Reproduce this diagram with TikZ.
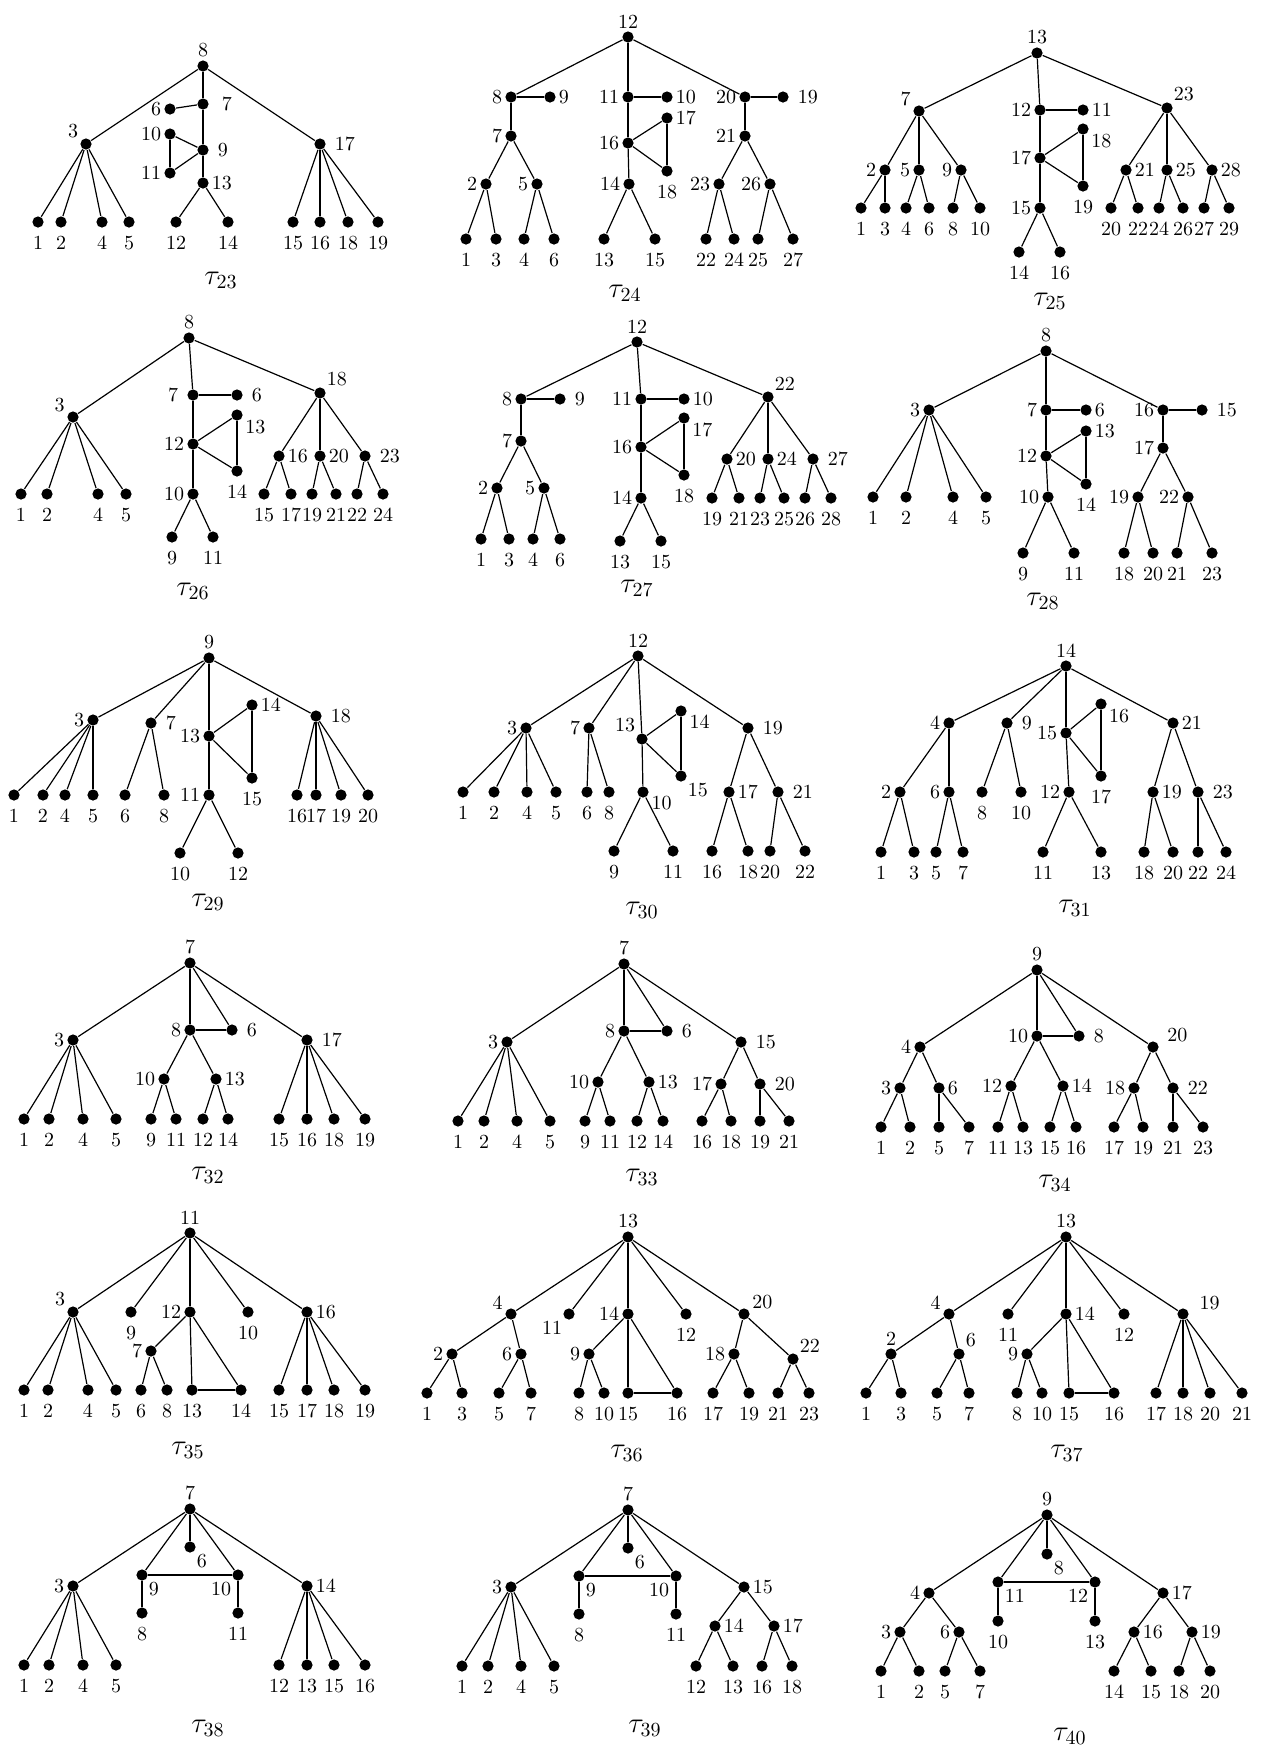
\documentclass[tikz,border=0pt]{standalone}
\usepackage{amsmath}
\usepackage{tikz}
\newcommand{\lbfont}{\fontsize{10}{12}\selectfont}
\tikzset{
 vtx/.style={circle,fill=black,inner sep=0pt,minimum size=5.6pt},
 leaf/.style={vtx,label={[yshift=-2.5pt]below:#1}},
 rlab/.style={label={[xshift=3pt]right:#1}},
 every label/.style={inner sep=1pt,font=\lbfont},
 tname/.style={font=\Large}
}

\begin{document}
\begin{tikzpicture}[x=0.5pt,y=-0.5pt,line width=0.6pt]
\useasboundingbox (0,0) rectangle (1261,1747);

% tau_23
\begin{scope}[name prefix=t23-]
\node[vtx,label=above:8] (n8) at (203,66) {};
\node[vtx,label={[xshift=5pt]right:7}] (n7) at (203,104) {};
\node[vtx,label=left:6] (n6) at (170,109) {};
\node[vtx,label=left:10] (n10) at (170,134) {};
\node[vtx,rlab=9] (n9) at (203,150) {};
\node[vtx,label=left:11] (n11) at (170,173) {};
\node[vtx,label=right:13] (n13) at (203,183) {};
\node[vtx,label=150:3] (n3) at (86,144) {};
\node[vtx,rlab=17] (n17) at (320,144) {};
\foreach \k/\x in {1/38,2/61,4/102,5/129,12/176,14/228,15/293,16/320,18/348,19/378}
  \node[leaf=\k] (n\k) at (\x,222) {};
\foreach \u/\w in {8/3,8/7,8/17,7/6,7/9,9/10,9/11,10/11,9/13,13/12,13/14,3/1,3/2,3/4,3/5,17/15,17/16,17/18,17/19}
  \draw (n\u) -- (n\w);
\node[tname] (lab) at (221,280) {$\tau_{23}$};
\end{scope}

% tau_24
\begin{scope}[name prefix=t24-]
\node[vtx,label=above:12] (n12) at (628,37) {};
\node[vtx,label=left:8] (n8) at (511,97) {};
\node[vtx,label=right:9] (n9) at (550,97) {};
\node[vtx,label=left:7] (n7) at (511,136) {};
\node[vtx,label=left:2] (n2) at (486,184) {};
\node[vtx,label=left:5] (n5) at (537,184) {};
\node[vtx,label=left:11] (n11) at (628,97) {};
\node[vtx,label=right:10] (n10) at (667,97) {};
\node[vtx,label=right:17] (n17) at (667,118) {};
\node[vtx,label=left:16] (n16) at (628,143) {};
\node[leaf=18] (n18) at (667,171) {};
\node[vtx,label=left:14] (n14) at (629,184) {};
\node[vtx,label=left:20] (n20) at (745,97) {};
\node[vtx,rlab=19] (n19) at (783,97) {};
\node[vtx,label=left:21] (n21) at (745,136) {};
\node[vtx,label=left:23] (n23) at (719,184) {};
\node[vtx,label=left:26] (n26) at (770,184) {};
\foreach \k/\x in {1/466,3/496,4/524,6/554,13/604,15/655,22/706,24/734,25/758,27/793}
  \node[leaf=\k] (n\k) at (\x,239) {};
\foreach \u/\w in {12/8,12/11,12/20,8/9,8/7,7/2,7/5,2/1,2/3,5/4,5/6,11/10,11/16,16/17,16/18,17/18,16/14,14/13,14/15,20/19,20/21,21/23,21/26,23/22,23/24,26/25,26/27}
  \draw (n\u) -- (n\w);
\node[tname] (lab) at (625,293) {$\tau_{24}$};
\end{scope}

% tau_25
\begin{scope}[name prefix=t25-]
\node[vtx,label=above:13] (n13) at (1037,53) {};
\node[vtx,label=160:7] (n7) at (919,111) {};
\node[vtx,label=left:2] (n2) at (885,170) {};
\node[vtx,label=left:5] (n5) at (919,170) {};
\node[vtx,label=left:9] (n9) at (961,170) {};
\node[vtx,label=left:12] (n12) at (1040,110) {};
\node[vtx,label=right:11] (n11) at (1083,110) {};
\node[vtx,label=-20:18] (n18) at (1083,129) {};
\node[vtx,label=left:17] (n17) at (1040,158) {};
\node[leaf=19] (n19) at (1083,186) {};
\node[vtx,label=left:15] (n15) at (1040,208) {};
\node[vtx,label=above right:23] (n23) at (1167,108) {};
\node[vtx,label=right:21] (n21) at (1126,170) {};
\node[vtx,label=right:25] (n25) at (1167,170) {};
\node[vtx,label=right:28] (n28) at (1212,170) {};
\foreach \k/\x in {1/861,3/885,4/906,6/929,8/953,10/980,20/1111,22/1138,24/1159,26/1183,27/1204,29/1229}
  \node[leaf=\k] (n\k) at (\x,208) {};
\foreach \k/\x in {14/1019,16/1060}
  \node[leaf=\k] (n\k) at (\x,252) {};
\foreach \u/\w in {13/7,13/12,13/23,7/2,7/5,7/9,2/1,2/3,5/4,5/6,9/8,9/10,12/11,12/17,17/18,17/19,18/19,17/15,15/14,15/16,23/21,23/25,23/28,21/20,21/22,25/24,25/26,28/27,28/29}
  \draw (n\u) -- (n\w);
\node[tname] (lab) at (1050,301) {$\tau_{25}$};
\end{scope}

% tau_26
\begin{scope}[name prefix=t26-]
\node[vtx,label=above:8] (n8) at (189,338) {};
\node[vtx,label=160:3] (n3) at (73,417) {};
\node[vtx,label={[xshift=-3pt]left:7}] (n7) at (193,395) {};
\node[vtx,rlab=6] (n6) at (237,395) {};
\node[vtx,label=-20:13] (n13) at (237,415) {};
\node[vtx,label=left:12] (n12) at (193,444) {};
\node[leaf=14] (n14) at (237,471) {};
\node[vtx,label=left:10] (n10) at (193,494) {};
\node[vtx,label=above right:18] (n18) at (320,393) {};
\node[vtx,label=right:16] (n16) at (279,456) {};
\node[vtx,label=right:20] (n20) at (320,456) {};
\node[vtx,rlab=23] (n23) at (365,456) {};
\foreach \k/\x in {1/21,2/47,4/98,5/126,15/264,17/291,19/312,21/336,22/357,24/383}
  \node[leaf=\k] (n\k) at (\x,494) {};
\foreach \k/\x in {9/172,11/213}
  \node[leaf=\k] (n\k) at (\x,537) {};
\foreach \u/\w in {8/3,8/7,8/18,3/1,3/2,3/4,3/5,7/6,7/12,12/13,12/14,13/14,12/10,10/9,10/11,18/16,18/20,18/23,16/15,16/17,20/19,20/21,23/22,23/24}
  \draw (n\u) -- (n\w);
\node[tname] (lab) at (193,591) {$\tau_{26}$};
\end{scope}

% tau_27
\begin{scope}[name prefix=t27-]
\node[vtx,label=above:12] (n12) at (637,342) {};
\node[vtx,label=left:8] (n8) at (521,399) {};
\node[vtx,rlab=9] (n9) at (560,399) {};
\node[vtx,label=left:7] (n7) at (521,441) {};
\node[vtx,label=left:2] (n2) at (497,488) {};
\node[vtx,label=left:5] (n5) at (544,488) {};
\node[vtx,label=left:11] (n11) at (641,399) {};
\node[vtx,label=right:10] (n10) at (684,399) {};
\node[vtx,label=-20:17] (n17) at (684,418) {};
\node[vtx,label=left:16] (n16) at (641,447) {};
\node[leaf=18] (n18) at (684,475) {};
\node[vtx,label=left:14] (n14) at (641,498) {};
\node[vtx,label=above right:22] (n22) at (768,397) {};
\node[vtx,label=right:20] (n20) at (727,459) {};
\node[vtx,label=right:24] (n24) at (768,459) {};
\node[vtx,rlab=27] (n27) at (813,459) {};
\foreach \k/\x in {1/481,3/509,4/533,6/560}
  \node[leaf=\k] (n\k) at (\x,539) {};
\foreach \k/\x in {13/620,15/661}
  \node[leaf=\k] (n\k) at (\x,541) {};
\foreach \k/\x in {19/712,21/739,23/760,25/784,26/805,28/831}
  \node[leaf=\k] (n\k) at (\x,498) {};
\foreach \u/\w in {12/8,12/11,12/22,8/9,8/7,7/2,7/5,2/1,2/3,5/4,5/6,11/10,11/16,16/17,16/18,17/18,16/14,14/13,14/15,22/20,22/24,22/27,20/19,20/21,24/23,24/25,27/26,27/28}
  \draw (n\u) -- (n\w);
\node[tname] (lab) at (637,588) {$\tau_{27}$};
\end{scope}

% tau_28
\begin{scope}[name prefix=t28-]
\node[vtx,label=above:8] (n8) at (1046,351) {};
\node[vtx,label=left:3] (n3) at (929,410) {};
\node[vtx,label=left:7] (n7) at (1046,410) {};
\node[vtx,label=right:6] (n6) at (1086,410) {};
\node[vtx,label=right:13] (n13) at (1086,431) {};
\node[vtx,label=left:12] (n12) at (1046,456) {};
\node[leaf=14] (n14) at (1086,484) {};
\node[vtx,label=left:10] (n10) at (1048,497) {};
\node[vtx,label=left:16] (n16) at (1163,410) {};
\node[vtx,rlab=15] (n15) at (1202,410) {};
\node[vtx,label=left:17] (n17) at (1163,448) {};
\node[vtx,label=left:19] (n19) at (1138,497) {};
\node[vtx,label=left:22] (n22) at (1188,497) {};
\foreach \k/\x in {1/873,2/906,4/953,5/986}
  \node[leaf=\k] (n\k) at (\x,497) {};
\foreach \k/\x in {9/1023,11/1074,18/1124,20/1153,21/1177,23/1212}
  \node[leaf=\k] (n\k) at (\x,553) {};
\foreach \u/\w in {8/3,8/7,8/16,3/1,3/2,3/4,3/5,7/6,7/12,12/13,12/14,13/14,12/10,10/9,10/11,16/15,16/17,17/19,17/22,19/18,19/20,22/21,22/23}
  \draw (n\u) -- (n\w);
\node[tname] (lab) at (1043,601) {$\tau_{28}$};
\end{scope}

% tau_29
\begin{scope}[name prefix=t29-]
\node[vtx,label=above:9] (n9) at (209,658) {};
\node[vtx,label=left:3] (n3) at (93,720) {};
\node[vtx,rlab=7] (n7) at (151,723) {};
\node[vtx,label=left:13] (n13) at (209,736) {};
\node[vtx,label=right:14] (n14) at (252,705) {};
\node[leaf=15] (n15) at (252,778) {};
\node[vtx,label=left:11] (n11) at (209,795) {};
\node[vtx,rlab=18] (n18) at (316,716) {};
\foreach \k/\x in {1/14,2/43,4/65,5/93,6/125,8/164,16/297,17/316,19/341,20/368}
  \node[leaf=\k] (n\k) at (\x,795) {};
\foreach \k/\x in {10/180,12/238}
  \node[leaf=\k] (n\k) at (\x,853) {};
\foreach \u/\w in {9/3,9/7,9/13,9/18,3/1,3/2,3/4,3/5,7/6,7/8,13/14,13/15,14/15,13/11,11/10,11/12,18/16,18/17,18/19,18/20}
  \draw (n\u) -- (n\w);
\node[tname] (lab) at (208,902) {$\tau_{29}$};
\end{scope}

% tau_30
\begin{scope}[name prefix=t30-]
\node[vtx,label=above:12] (n12) at (638,656) {};
\node[vtx,label=left:3] (n3) at (526,728) {};
\node[vtx,label=left:7] (n7) at (589,728) {};
\node[vtx,label=above left:13] (n13) at (642,739) {};
\node[vtx,label=-15:14] (n14) at (681,711) {};
\node[vtx,label=below right:15] (n15) at (681,776) {};
\node[vtx,label=-15:10] (n10) at (643,792) {};
\node[vtx,rlab=19] (n19) at (748,728) {};
\node[vtx,label=right:17] (n17) at (729,792) {};
\node[vtx,rlab=21] (n21) at (778,792) {};
\foreach \k/\x in {1/463,2/494,4/527,5/556,6/587,8/609}
  \node[leaf=\k] (n\k) at (\x,792) {};
\foreach \k/\x in {9/614,11/673,16/712,18/748,20/770,22/805}
  \node[leaf=\k] (n\k) at (\x,851) {};
\foreach \u/\w in {12/3,12/7,12/13,12/19,3/1,3/2,3/4,3/5,7/6,7/8,13/14,13/15,14/15,13/10,10/9,10/11,19/17,19/21,17/16,17/18,21/20,21/22}
  \draw (n\u) -- (n\w);
\node[tname] (lab) at (642,910) {$\tau_{30}$};
\end{scope}

% tau_31
\begin{scope}[name prefix=t31-]
\node[vtx,label=above:14] (n14) at (1066,666) {};
\node[vtx,label=left:4] (n4) at (949,723) {};
\node[vtx,label=left:2] (n2) at (900,792) {};
\node[vtx,label=left:6] (n6) at (949,792) {};
\node[vtx,rlab=9] (n9) at (1007,723) {};
\node[leaf=8] (n8) at (982,792) {};
\node[leaf=10] (n10) at (1021,792) {};
\node[vtx,label=left:15] (n15) at (1066,733) {};
\node[vtx,label=-25:16] (n16) at (1101,704) {};
\node[leaf=17] (n17) at (1101,776) {};
\node[vtx,label=left:12] (n12) at (1069,792) {};
\node[vtx,label=right:21] (n21) at (1173,723) {};
\node[vtx,label=right:19] (n19) at (1153,792) {};
\node[vtx,rlab=23] (n23) at (1198,792) {};
\foreach \k/\x in {1/881,3/914,5/936,7/963,11/1043,13/1101,18/1144,20/1173,22/1198,24/1226}
  \node[leaf=\k] (n\k) at (\x,852) {};
\foreach \u/\w in {14/4,14/9,14/15,14/21,4/2,4/6,2/1,2/3,6/5,6/7,9/8,9/10,15/16,15/17,16/17,15/12,12/11,12/13,21/19,21/23,19/18,19/20,23/22,23/24}
  \draw (n\u) -- (n\w);
\node[tname] (lab) at (1075,908) {$\tau_{31}$};
\end{scope}

% tau_32
\begin{scope}[name prefix=t32-]
\node[vtx,label=above:7] (n7) at (190,963) {};
\node[vtx,label=left:3] (n3) at (73,1040) {};
\node[vtx,label=left:8] (n8) at (190,1030) {};
\node[vtx,rlab=6] (n6) at (232,1030) {};
\node[vtx,label=left:10] (n10) at (164,1079) {};
\node[vtx,label=right:13] (n13) at (216,1079) {};
\node[vtx,rlab=17] (n17) at (307,1040) {};
\foreach \k/\x in {1/24,2/49,4/83,5/116,9/151,11/176,12/203,14/228,15/279,16/307,18/334,19/365}
  \node[leaf=\k] (n\k) at (\x,1119) {};
\foreach \u/\w in {7/3,7/8,7/6,7/17,8/6,3/1,3/2,3/4,3/5,8/10,8/13,10/9,10/11,13/12,13/14,17/15,17/16,17/18,17/19}
  \draw (n\u) -- (n\w);
\node[tname] (lab) at (208,1175) {$\tau_{32}$};
\end{scope}

% tau_33
\begin{scope}[name prefix=t33-]
\node[vtx,label=above:7] (n7) at (624,964) {};
\node[vtx,label=left:3] (n3) at (507,1042) {};
\node[vtx,label=left:8] (n8) at (624,1031) {};
\node[vtx,rlab=6] (n6) at (667,1031) {};
\node[vtx,label=left:10] (n10) at (598,1082) {};
\node[vtx,label=right:13] (n13) at (649,1082) {};
\node[vtx,rlab=15] (n15) at (741,1042) {};
\node[vtx,label=left:17] (n17) at (721,1084) {};
\node[vtx,rlab=20] (n20) at (760,1084) {};
\foreach \k/\x in {1/458,2/484,4/517,5/550,9/585,11/610,12/637,14/663,16/702,18/731,19/760,21/789}
  \node[leaf=\k] (n\k) at (\x,1121) {};
\foreach \u/\w in {7/3,7/8,7/6,7/15,8/6,3/1,3/2,3/4,3/5,8/10,8/13,10/9,10/11,13/12,13/14,15/17,15/20,17/16,17/18,20/19,20/21}
  \draw (n\u) -- (n\w);
\node[tname] (lab) at (642,1177) {$\tau_{33}$};
\end{scope}

% tau_34
\begin{scope}[name prefix=t34-]
\node[vtx,label=above:9] (n9) at (1037,970) {};
\node[vtx,label=left:4] (n4) at (920,1047) {};
\node[vtx,label=left:3] (n3) at (900,1088) {};
\node[vtx,label=right:6] (n6) at (939,1088) {};
\node[vtx,label=left:10] (n10) at (1037,1036) {};
\node[vtx,rlab=8] (n8) at (1079,1036) {};
\node[vtx,label=left:12] (n12) at (1011,1086) {};
\node[vtx,label=right:14] (n14) at (1063,1086) {};
\node[vtx,label={[xshift=3pt]20:20}] (n20) at (1153,1047) {};
\node[vtx,label=left:18] (n18) at (1134,1088) {};
\node[vtx,rlab=22] (n22) at (1173,1088) {};
\foreach \k/\x in {1/881,2/910,5/939,7/969,11/998,13/1023,15/1050,16/1076,17/1114,19/1143,21/1173,23/1203}
  \node[leaf=\k] (n\k) at (\x,1127) {};
\foreach \u/\w in {9/4,9/10,9/8,9/20,10/8,4/3,4/6,3/1,3/2,6/5,6/7,10/12,10/14,12/11,12/13,14/15,14/16,20/18,20/22,18/17,18/19,22/21,22/23}
  \draw (n\u) -- (n\w);
\node[tname] (lab) at (1055,1183) {$\tau_{34}$};
\end{scope}

% tau_35
\begin{scope}[name prefix=t35-]
\node[vtx,label=above:11] (n11) at (190,1233) {};
\node[vtx,label=150:3] (n3) at (73,1312) {};
\node[leaf=9] (n9) at (131,1312) {};
\node[vtx,label=left:12] (n12) at (190,1312) {};
\node[leaf=10] (n10) at (248,1312) {};
\node[vtx,label=left:7] (n7) at (151,1351) {};
\node[vtx,label=right:16] (n16) at (307,1312) {};
\foreach \k/\x in {1/24,2/48,4/88,5/116,6/141,8/167,13/192,14/241,15/279,17/307,18/334,19/365}
  \node[leaf=\k] (n\k) at (\x,1390) {};
\foreach \u/\w in {11/3,11/9,11/12,11/10,11/16,3/1,3/2,3/4,3/5,12/7,12/13,12/14,13/14,7/6,7/8,16/15,16/17,16/18,16/19}
  \draw (n\u) -- (n\w);
\node[tname] (lab) at (188,1450) {$\tau_{35}$};
\end{scope}

% tau_36
\begin{scope}[name prefix=t36-]
\node[vtx,label=above:13] (n13) at (628,1237) {};
\node[vtx,label=160:4] (n4) at (511,1314) {};
\node[vtx,label=left:2] (n2) at (452,1354) {};
\node[vtx,label=left:6] (n6) at (521,1354) {};
\node[vtx,label=below left:11] (n11) at (569,1314) {};
\node[vtx,label=left:14] (n14) at (628,1314) {};
\node[leaf=12] (n12) at (686,1314) {};
\node[vtx,label=left:9] (n9) at (589,1354) {};
\node[vtx,label=20:20] (n20) at (744,1314) {};
\node[vtx,label=left:18] (n18) at (734,1354) {};
\node[vtx,label=above right:22] (n22) at (793,1359) {};
\foreach \k/\x in {1/427,3/462,5/499,7/531,8/579,10/604,15/628,16/677,17/713,19/749,21/778,23/809}
  \node[leaf=\k] (n\k) at (\x,1393) {};
\foreach \u/\w in {13/4,13/11,13/14,13/12,13/20,4/2,4/6,2/1,2/3,6/5,6/7,14/9,14/15,14/16,15/16,9/8,9/10,20/18,20/22,18/17,18/19,22/21,22/23}
  \draw (n\u) -- (n\w);
\node[tname] (lab) at (627,1453) {$\tau_{36}$};
\end{scope}

% tau_37
\begin{scope}[name prefix=t37-]
\node[vtx,label=above:13] (n13) at (1066,1237) {};
\node[vtx,label=160:4] (n4) at (949,1314) {};
\node[vtx,label=above:2] (n2) at (891,1354) {};
\node[vtx,label=above right:6] (n6) at (959,1354) {};
\node[leaf=11] (n11) at (1008,1314) {};
\node[vtx,label=right:14] (n14) at (1066,1314) {};
\node[leaf=12] (n12) at (1124,1314) {};
\node[vtx,label=left:9] (n9) at (1027,1354) {};
\node[vtx,label={[xshift=4pt]15:19}] (n19) at (1183,1314) {};
\foreach \k/\x in {1/866,3/901,5/937,7/969,8/1017,10/1042,15/1069,16/1114,17/1156,18/1183,20/1210,21/1242}
  \node[leaf=\k] (n\k) at (\x,1393) {};
\foreach \u/\w in {13/4,13/11,13/14,13/12,13/19,4/2,4/6,2/1,2/3,6/5,6/7,14/9,14/15,14/16,15/16,9/8,9/10,19/17,19/18,19/20,19/21}
  \draw (n\u) -- (n\w);
\node[tname] (lab) at (1067,1453) {$\tau_{37}$};
\end{scope}

% tau_38
\begin{scope}[name prefix=t38-]
\node[vtx,label=above:7] (n7) at (190,1509) {};
\node[vtx,label=below right:6] (n6) at (190,1547) {};
\node[vtx,label=below right:9] (n9) at (142,1575) {};
\node[vtx,label=below left:10] (n10) at (238,1575) {};
\node[leaf=8] (n8) at (142,1613) {};
\node[leaf=11] (n11) at (238,1613) {};
\node[vtx,label=left:3] (n3) at (73,1586) {};
\node[vtx,label=right:14] (n14) at (307,1586) {};
\foreach \k/\x in {1/24,2/49,4/83,5/116,12/279,13/307,15/334,16/365}
  \node[leaf=\k] (n\k) at (\x,1665) {};
\foreach \u/\w in {7/3,7/9,7/6,7/10,7/14,9/10,9/8,10/11,3/1,3/2,3/4,3/5,14/12,14/13,14/15,14/16}
  \draw (n\u) -- (n\w);
\node[tname] (lab) at (208,1728) {$\tau_{38}$};
\end{scope}

% tau_39
\begin{scope}[name prefix=t39-]
\node[vtx,label=above:7] (n7) at (628,1510) {};
\node[vtx,label=below right:6] (n6) at (628,1548) {};
\node[vtx,label=below right:9] (n9) at (579,1576) {};
\node[vtx,label=below left:10] (n10) at (676,1576) {};
\node[leaf=8] (n8) at (579,1614) {};
\node[leaf=11] (n11) at (676,1614) {};
\node[vtx,label=left:3] (n3) at (511,1587) {};
\node[vtx,label=right:15] (n15) at (744,1587) {};
\node[vtx,label=right:14] (n14) at (715,1626) {};
\node[vtx,label=right:17] (n17) at (774,1626) {};
\foreach \k/\x in {1/462,2/488,4/521,5/554,12/696,13/733,16/762,18/792}
  \node[leaf=\k] (n\k) at (\x,1666) {};
\foreach \u/\w in {7/3,7/9,7/6,7/10,7/15,9/10,9/8,10/11,3/1,3/2,3/4,3/5,15/14,15/17,14/12,14/13,17/16,17/18}
  \draw (n\u) -- (n\w);
\node[tname] (lab) at (645,1728) {$\tau_{39}$};
\end{scope}

% tau_40
\begin{scope}[name prefix=t40-]
\node[vtx,label=above:9] (n9) at (1047,1515) {};
\node[vtx,label=below right:8] (n8) at (1047,1554) {};
\node[vtx,label=below right:11] (n11) at (998,1582) {};
\node[vtx,label=below left:12] (n12) at (1095,1582) {};
\node[leaf=10] (n10) at (998,1621) {};
\node[leaf=13] (n13) at (1095,1621) {};
\node[vtx,label=left:4] (n4) at (929,1593) {};
\node[vtx,label=left:3] (n3) at (900,1632) {};
\node[vtx,label=left:6] (n6) at (959,1632) {};
\node[vtx,label=right:17] (n17) at (1163,1593) {};
\node[vtx,label=right:16] (n16) at (1134,1632) {};
\node[vtx,label=right:19] (n19) at (1192,1632) {};
\foreach \k/\x in {1/881,2/919,5/945,7/980,14/1114,15/1151,18/1179,20/1210}
  \node[leaf=\k] (n\k) at (\x,1671) {};
\foreach \u/\w in {9/4,9/11,9/8,9/12,9/17,11/12,11/10,12/13,4/3,4/6,3/1,3/2,6/5,6/7,17/16,17/19,16/14,16/15,19/18,19/20}
  \draw (n\u) -- (n\w);
\node[tname] (lab) at (1070,1736) {$\tau_{40}$};
\end{scope}

\end{tikzpicture}
\end{document}
